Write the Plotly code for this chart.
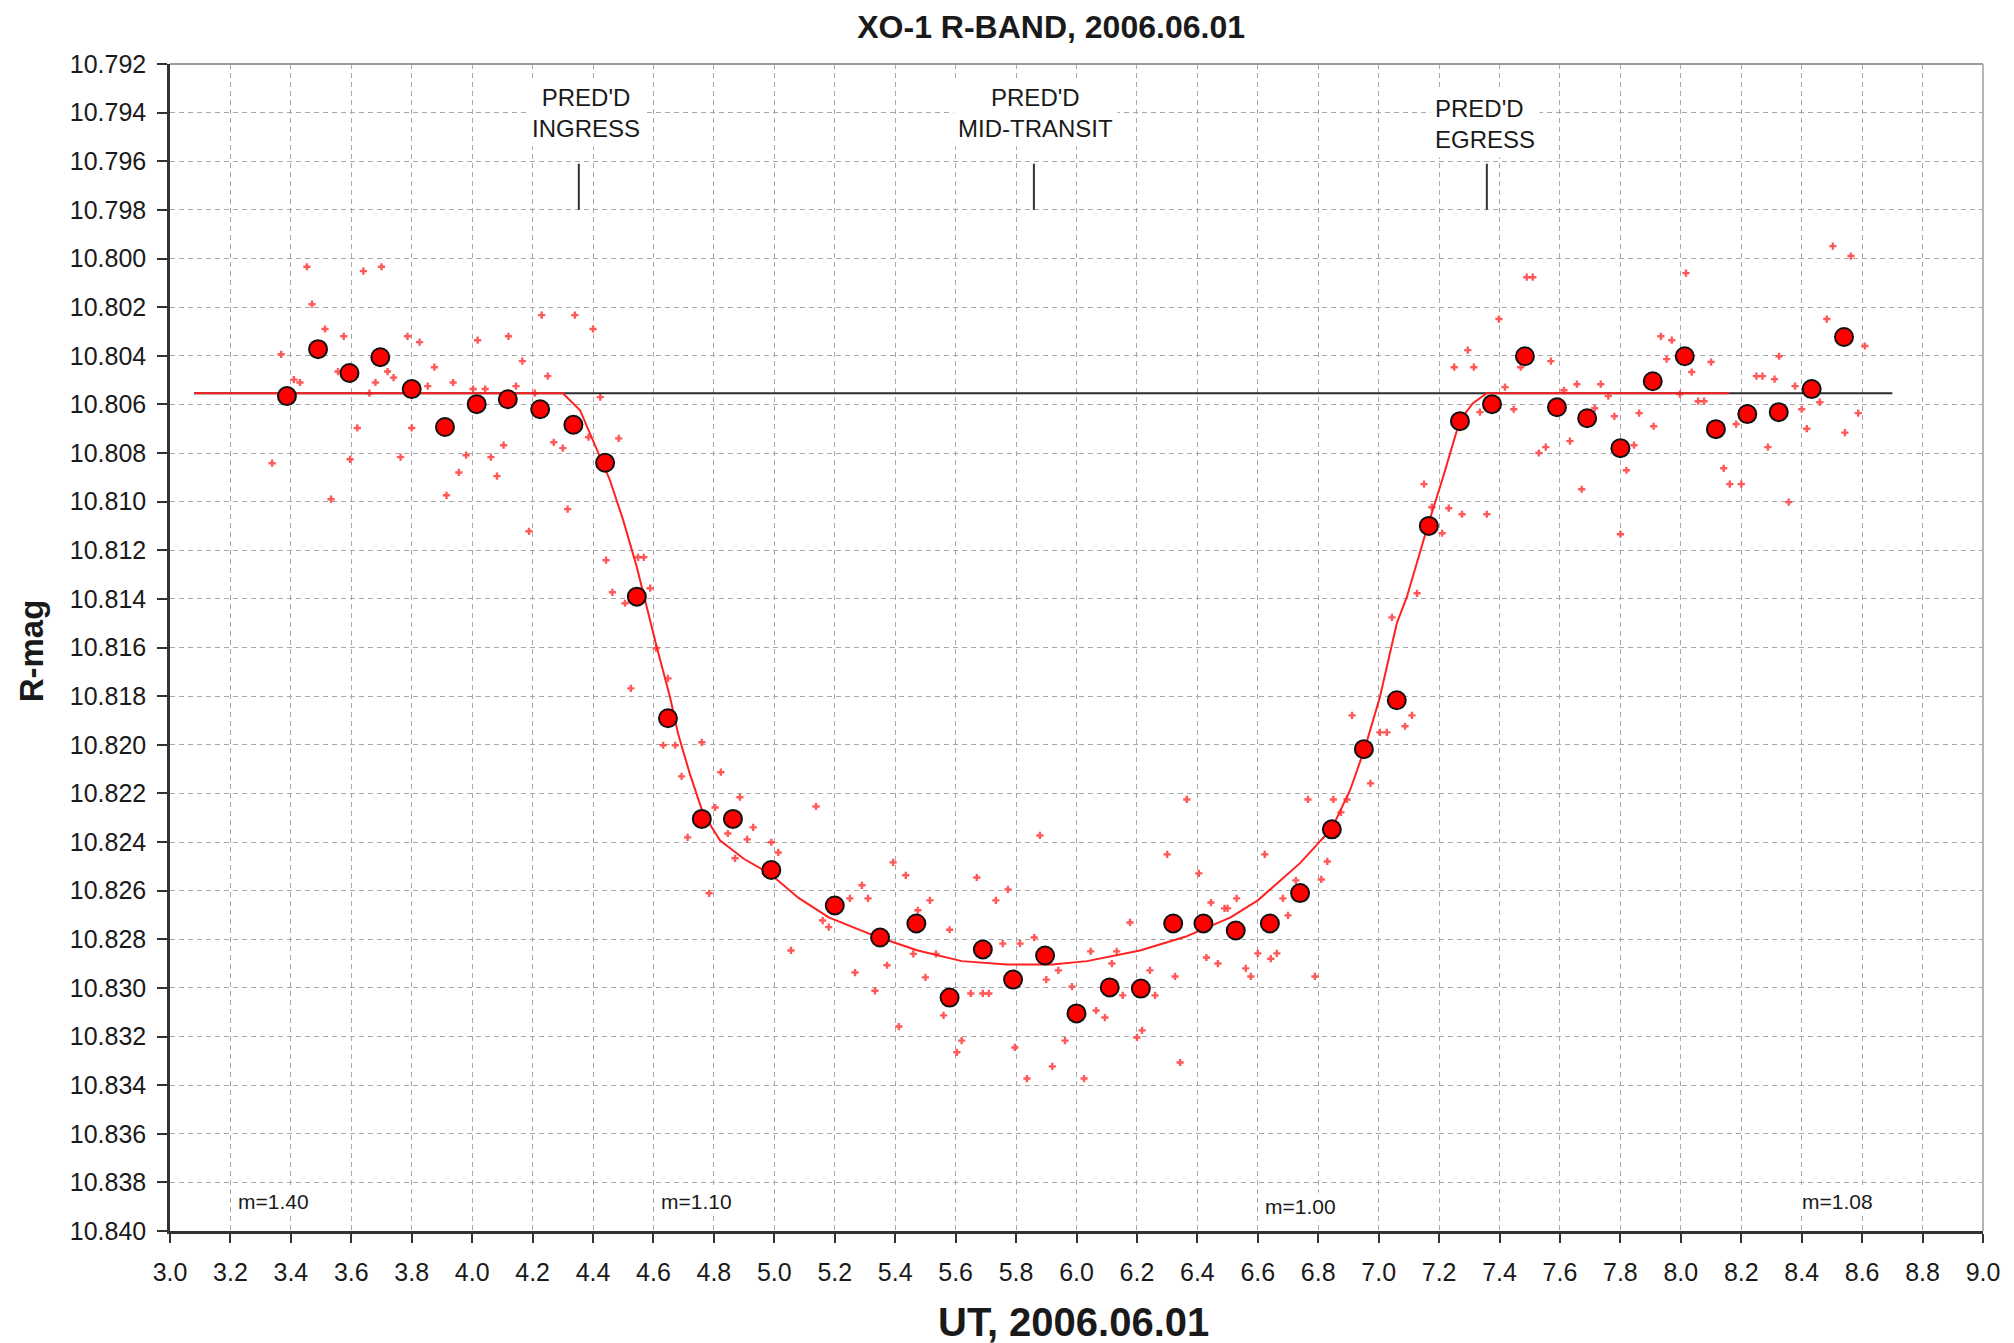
import plotly.graph_objects as go

# ---------------- data ----------------
# individual measurements (small red crosses)
indiv_x = [3.338, 3.368, 3.41, 3.43, 3.453, 3.47, 3.513, 3.533, 3.556, 3.575, 3.596, 3.62, 3.64, 3.66, 3.68,
           3.70, 3.72, 3.74, 3.763, 3.786, 3.80, 3.826, 3.853, 3.875, 3.915, 3.937, 3.956, 3.98, 4.003, 4.018,
           4.043, 4.062, 4.082, 4.104, 4.12, 4.145, 4.166, 4.188, 4.207, 4.23, 4.25, 4.27, 4.30, 4.316, 4.34,
           4.385, 4.40, 4.424, 4.443, 4.464, 4.485, 4.506, 4.525, 4.549, 4.568, 4.589, 4.609, 4.632, 4.648,
           4.672, 4.693, 4.713, 4.76, 4.784, 4.804, 4.823, 4.846, 4.87, 4.886, 4.91, 4.93, 4.97, 4.99, 5.013,
           5.055, 5.138, 5.16, 5.18, 5.25, 5.267, 5.29, 5.31, 5.333, 5.373, 5.393, 5.412, 5.435, 5.46, 5.475,
           5.50, 5.515, 5.535, 5.56, 5.58, 5.604, 5.62, 5.65, 5.67, 5.69, 5.71, 5.733, 5.756, 5.773, 5.796,
           5.813, 5.836, 5.86, 5.879, 5.90, 5.92, 5.94, 5.962, 5.985, 6.025, 6.047, 6.065, 6.094, 6.117, 6.133,
           6.153, 6.177, 6.20, 6.217, 6.243, 6.26, 6.30, 6.326, 6.343, 6.365, 6.405, 6.43, 6.445, 6.468, 6.49,
           6.50, 6.53, 6.56, 6.577, 6.60, 6.623, 6.643, 6.663, 6.683, 6.70, 6.726, 6.766, 6.789, 6.81, 6.83,
           6.85, 6.875, 6.895, 6.912, 6.973, 7.004, 7.027, 7.044, 7.087, 7.11, 7.127, 7.15, 7.176, 7.21, 7.232,
           7.25, 7.276, 7.295, 7.315, 7.335, 7.358, 7.398, 7.418, 7.447, 7.47, 7.49, 7.51, 7.53, 7.553, 7.57,
           7.613, 7.633, 7.656, 7.672, 7.715, 7.735, 7.76, 7.78, 7.80, 7.82, 7.845, 7.862, 7.91, 7.934, 7.953,
           7.97, 7.997, 8.017, 8.036, 8.057, 8.077, 8.10, 8.142, 8.162, 8.183, 8.20, 8.25, 8.27, 8.288, 8.31,
           8.325, 8.357, 8.378, 8.40, 8.417, 8.46, 8.483, 8.503, 8.543, 8.563, 8.587, 8.609]
indiv_y = [10.80842, 10.80394, 10.80498, 10.8051, 10.80034, 10.80188, 10.8029, 10.8099, 10.80465, 10.8032,
           10.80826, 10.80697, 10.80052, 10.80554, 10.8051, 10.80034, 10.80465, 10.8049, 10.80817, 10.8032,
           10.80697, 10.80344, 10.80525, 10.80447, 10.80974, 10.8051, 10.8088, 10.80809, 10.80537, 10.80336,
           10.80537, 10.80817, 10.80895, 10.80768, 10.8032, 10.80525, 10.80422, 10.81122, 10.80554, 10.80233,
           10.80484, 10.80756, 10.8078, 10.81031, 10.80233, 10.80735, 10.8029, 10.8057, 10.81241, 10.81373,
           10.8074, 10.81418, 10.81768, 10.81229, 10.81229, 10.81356, 10.81603, 10.82002, 10.81727, 10.82002,
           10.8213, 10.82381, 10.8199, 10.82611, 10.82258, 10.82113, 10.82365, 10.82467, 10.82216, 10.82389,
           10.8234, 10.82529, 10.82401, 10.82443, 10.82846, 10.82254, 10.82723, 10.8275, 10.82632, 10.82937,
           10.82578, 10.82632, 10.83012, 10.82907, 10.82484, 10.83159, 10.82537, 10.8286, 10.82681, 10.82957,
           10.8264, 10.8286, 10.83113, 10.82761, 10.83265, 10.83217, 10.83023, 10.82546, 10.83023, 10.83023,
           10.8264, 10.82818, 10.82595, 10.83245, 10.82818, 10.83373, 10.82793, 10.82373, 10.82966, 10.83323,
           10.82928, 10.83217, 10.82995, 10.83373, 10.8285, 10.83093, 10.83122, 10.829, 10.8285, 10.83031,
           10.82731, 10.83204, 10.83175, 10.82928, 10.83031, 10.82451, 10.82953, 10.83307, 10.82225, 10.82529,
           10.82875, 10.82649, 10.829, 10.82673, 10.82673, 10.82632, 10.8292, 10.82953, 10.82858, 10.82451,
           10.8288, 10.82858, 10.82632, 10.82702, 10.82558, 10.82225, 10.82953, 10.82554, 10.8248, 10.82225,
           10.82278, 10.82225, 10.81879, 10.82159, 10.81949, 10.81949, 10.81476, 10.81924, 10.81879, 10.81377,
           10.80928, 10.81023, 10.8113, 10.81027, 10.80447, 10.81052, 10.80377, 10.80447, 10.80632, 10.81052,
           10.80249, 10.80529, 10.8062, 10.80447, 10.80077, 10.80077, 10.808, 10.80776, 10.80422, 10.80542,
           10.80751, 10.80517, 10.80949, 10.80616, 10.80517, 10.80566, 10.80649, 10.81134, 10.80871, 10.80768,
           10.80636, 10.8069, 10.8032, 10.80414, 10.80336, 10.80558, 10.8006, 10.80467, 10.80587, 10.80587,
           10.80426, 10.80863, 10.80928, 10.80681, 10.80928, 10.80484, 10.80484, 10.80776, 10.80496, 10.80402,
           10.81002, 10.80525, 10.8062, 10.8070, 10.80591, 10.80249, 10.79949, 10.80716, 10.7999, 10.80636,
           10.8036]

# binned means (big red dots)
bin_x = [3.387, 3.49, 3.594, 3.696, 3.80, 3.91, 4.015, 4.118, 4.225, 4.335, 4.44, 4.545, 4.648, 4.76, 4.863,
         4.99, 5.20, 5.35, 5.47, 5.58, 5.69, 5.79, 5.896, 6.00, 6.11, 6.213, 6.32, 6.42, 6.527, 6.64, 6.74,
         6.845, 6.951, 7.06, 7.166, 7.269, 7.375, 7.484, 7.59, 7.69, 7.80, 7.907, 8.013, 8.116, 8.22, 8.324,
         8.433, 8.54]
bin_y = [10.80566, 10.80373, 10.80471, 10.80406, 10.80537, 10.80693, 10.80599, 10.80579, 10.8062, 10.80684,
         10.80840, 10.81391, 10.81891, 10.82305, 10.82305, 10.82515, 10.82661, 10.82793, 10.82735, 10.8304,
         10.82842, 10.82966, 10.82867, 10.83105, 10.82998, 10.83003, 10.82735, 10.82735, 10.82764, 10.82735,
         10.8261, 10.82348, 10.82018, 10.81817, 10.81100, 10.80669, 10.80599, 10.80402, 10.80612, 10.80657,
         10.8078, 10.80505, 10.80402, 10.80702, 10.8064, 10.80632, 10.80537, 10.80323]

# transit model (red line)
model_x = [3.08, 4.30, 4.357, 4.416, 4.456, 4.50, 4.545, 4.578, 4.611, 4.655, 4.681, 4.72, 4.764, 4.82, 4.90,
           4.985, 5.08, 5.18, 5.34, 5.475, 5.62, 5.77, 5.92, 6.035, 6.21, 6.36, 6.51, 6.60, 6.739, 6.845,
           6.905, 6.954, 7.004, 7.06, 7.093, 7.163, 7.213, 7.269, 7.312, 7.358, 8.16]
model_y = [10.80554, 10.80554, 10.80624, 10.80797, 10.80912, 10.81077, 10.8127, 10.81434, 10.81599, 10.81805,
           10.81953, 10.82118, 10.82282, 10.82393, 10.8247, 10.8253, 10.8263, 10.8271, 10.8279, 10.82846,
           10.8289, 10.82904, 10.82904, 10.8289, 10.82846, 10.8279, 10.8271, 10.8264, 10.82488, 10.82344,
           10.82188, 10.82015, 10.81805, 10.815, 10.81393, 10.81097, 10.809, 10.80665, 10.80595, 10.80554,
           10.80554]

# out-of-transit baseline (black line)
base_x = [3.08, 8.70]
base_y = [10.80554, 10.80554]

# predicted contact times
pred_times = [4.353, 5.859, 7.358]
pred_labels = ["PRED'D<br>INGRESS", "PRED'D<br>MID-TRANSIT", "PRED'D<br>EGRESS"]
pred_text_x = [4.378, 5.865, 7.351]
pred_text_y = [10.79402, 10.79402, 10.79447]
pred_align = ["center", "center", "left"]
pred_tick_top = 10.7961
pred_tick_bottom = 10.7980

# air-mass labels
m_labels = ["m=1.40", "m=1.10", "m=1.00", "m=1.08"]
m_x = [3.344, 4.744, 6.742, 8.52]
m_y = [10.8388, 10.8388, 10.8390, 10.8388]

title_text = "XO-1 R-BAND, 2006.06.01"
x_title = "UT, 2006.06.01"
y_title = "R-mag"

# ---------------- figure ----------------
FONT = "Liberation Sans, Arial, sans-serif"
TXT = "#1a1a1a"

fig = go.Figure()

fig.add_trace(go.Scatter(x=indiv_x, y=indiv_y, mode="markers",
                         marker=dict(symbol="cross", size=6, color="rgba(255,70,70,0.9)", line=dict(width=0)),
                         showlegend=False, hoverinfo="x+y"))
fig.add_trace(go.Scatter(x=base_x, y=base_y, mode="lines",
                         line=dict(color="#2b2b2b", width=2), showlegend=False))
fig.add_trace(go.Scatter(x=model_x, y=model_y, mode="lines",
                         line=dict(color="#ff2020", width=2), showlegend=False))
fig.add_trace(go.Scatter(x=bin_x, y=bin_y, mode="markers",
                         marker=dict(symbol="circle", size=18, color="#ff0000",
                                     line=dict(color="#111111", width=2)),
                         showlegend=False))

# predicted-time tick marks
for t in pred_times:
    fig.add_trace(go.Scatter(x=[t, t], y=[pred_tick_top, pred_tick_bottom], mode="lines",
                             line=dict(color="#333333", width=2), showlegend=False, hoverinfo="skip"))

annotations = []
for lab, tx, ty, al in zip(pred_labels, pred_text_x, pred_text_y, pred_align):
    annotations.append(dict(x=tx, y=ty, xref="x", yref="y", text=lab, showarrow=False,
                            font=dict(family=FONT, size=24, color=TXT), align=al,
                            bgcolor="white", borderpad=4))
for lab, tx, ty in zip(m_labels, m_x, m_y):
    annotations.append(dict(x=tx, y=ty, xref="x", yref="y", text=lab, showarrow=False,
                            font=dict(family=FONT, size=21, color=TXT), bgcolor="white", borderpad=2))

# axis titles
annotations.append(dict(x=0.4986, y=-0.078, xref="paper", yref="paper", text="<b>" + x_title + "</b>",
                        showarrow=False, font=dict(family=FONT, size=40, color=TXT),
                        xanchor="center", yanchor="middle"))
annotations.append(dict(x=-0.0765, y=0.497, xref="paper", yref="paper", text="<b>" + y_title + "</b>",
                        showarrow=False, textangle=-90, font=dict(family=FONT, size=33, color=TXT),
                        xanchor="center", yanchor="middle"))

grid = dict(showgrid=True, gridcolor="#a8a8a8", gridwidth=1.4, griddash="5px,4px", zeroline=False)

fig.update_layout(
    width=2014, height=1343,
    margin=dict(l=170, r=31, t=64, b=112),
    paper_bgcolor="white", plot_bgcolor="white",
    font=dict(family=FONT, color=TXT),
    title=dict(text="<b>" + title_text + "</b>", x=0.486, xref="paper", xanchor="center",
               y=1 - 27 / 1343, yref="container", yanchor="middle",
               font=dict(family=FONT, size=32, color=TXT)),
    xaxis=dict(range=[3.0, 9.0], dtick=0.2, tick0=3.0, tickformat=".1f",
               ticks="outside", ticklen=9, tickwidth=2, tickcolor="#333333",
               showline=True, linecolor="#333333", linewidth=2.5,
               tickfont=dict(family=FONT, size=25, color=TXT), ticklabelstandoff=8, **grid),
    yaxis=dict(range=[10.840, 10.792], dtick=0.002, tick0=10.792, tickformat=".3f",
               ticks="outside", ticklen=10, tickwidth=2, tickcolor="#333333",
               showline=True, linecolor="#333333", linewidth=2.5,
               tickfont=dict(family=FONT, size=25, color=TXT), ticklabelstandoff=6, **grid),
    annotations=annotations,
    shapes=[
        dict(type="line", xref="paper", yref="paper", x0=0, x1=1, y0=1, y1=1,
             line=dict(color="#9a9a9a", width=2)),
        dict(type="line", xref="paper", yref="paper", x0=1, x1=1, y0=0, y1=1,
             line=dict(color="#b5b5b5", width=2)),
    ],
)

fig.write_html("out.html")
